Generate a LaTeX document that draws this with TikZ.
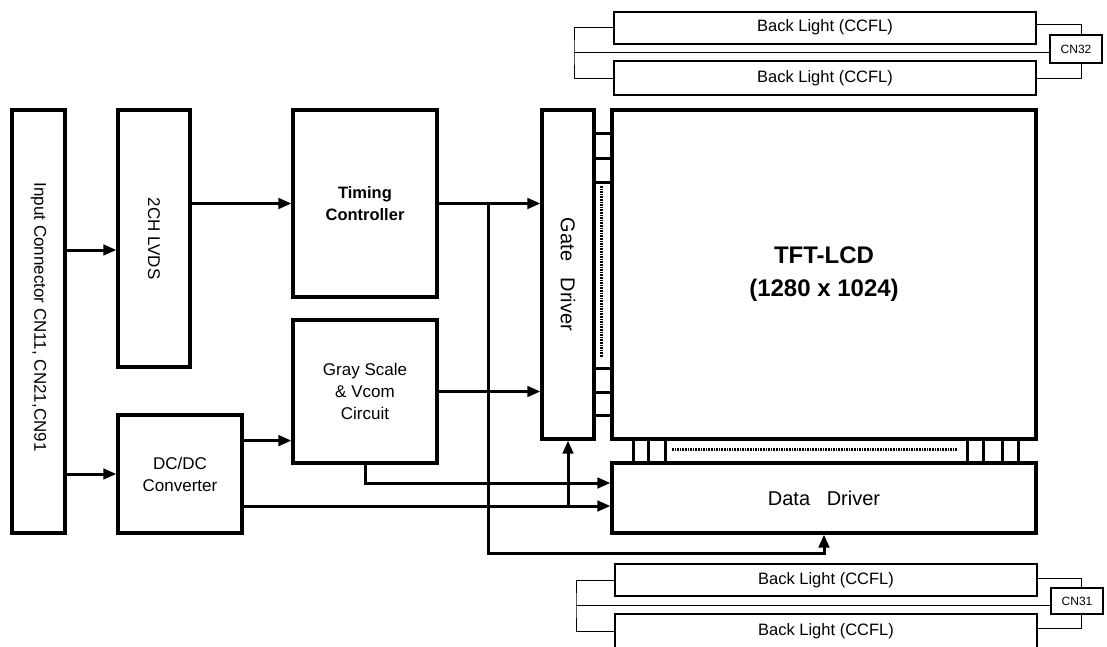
\documentclass[tikz,border=0pt]{standalone}
\usepackage{fontspec}
\setmainfont{Liberation Sans}
\usetikzlibrary{arrows.meta,positioning,calc}

\begin{document}
\begin{tikzpicture}[x=1pt,y=-1pt,
	blk/.style={draw,line width=3.2pt,inner sep=0pt,align=center,
		font=\fontsize{17}{22}\selectfont},
	lamp/.style={draw,line width=2pt,inner sep=0pt,minimum width=422pt,
		font=\fontsize{16.5}{20}\selectfont},
	conn/.style={draw,line width=2pt,inner sep=0pt,minimum width=52pt,
		font=\fontsize{12}{14}\selectfont},
	arr/.style={line width=3pt,-{Triangle[length=13pt,width=10.5pt]}},
	tab/.style={line width=3pt},
	dots/.style={line width=3pt,dash pattern=on 1.6pt off 1pt},
	wire/.style={line width=1pt}]

				\useasboundingbox (0,0) rectangle (1107,646);
				\clip (0,0) rectangle (1107,646);

				% left blocks
				\node[blk,minimum width=53pt,minimum height=423pt] (inp) at (38.5,321.5) {};
				\node[rotate=-90,font=\fontsize{17}{20}\selectfont] (inptxt) at (38.5,317)
				{Input Connector CN11, CN21,CN91};

				\node[blk,minimum width=72pt,minimum height=257pt] (lvds) at (154,238.5) {};
				\node[rotate=-90,font=\fontsize{17}{20}\selectfont] (lvdstxt) at (lvds) {2CH LVDS};

				\node[blk,minimum width=124pt,minimum height=118pt] (dcdc) at (180,474)
				{DC/DC\\Converter};

				\node[blk,minimum width=144pt,minimum height=187pt,
					font=\fontsize{16.5}{22}\selectfont\bfseries] (tcon) at (365,203.5)
				{Timing\\Controller};

				\node[blk,minimum width=144pt,minimum height=143pt] (gray) at (365,391.5)
				{Gray Scale\\\& Vcom\\Circuit};

				% panel
				\node[blk,minimum width=52pt,minimum height=329pt] (gate) at (568,274.5) {};
				\node[rotate=-90,font=\fontsize{20}{24}\selectfont] (gatetxt) at (gate)
				{Gate~~~Driver};

				\node[blk,minimum width=424pt,minimum height=329pt,
					font=\fontsize{24}{33}\selectfont\bfseries] (tft) at (824,274.5)
				{TFT-LCD\\(1280 x 1024)};

				\node[blk,minimum width=424pt,minimum height=70pt,
					font=\fontsize{20}{24}\selectfont] (data) at (824,498)
				{Data~~~Driver};

				\foreach \y in {133,158,182,368,392,415}
				{
					\path (0,\y) coordinate (ty);
					\draw[tab] (gate.east |- ty) -- (tft.west |- ty);
				}
				\draw[dots] (601,186) -- (601,357);

				\foreach \x in {633,648,665,967,983,1002,1018}
				{
					\path (\x,0) coordinate (tx);
					\draw[tab] (tft.south -| tx) -- (data.north -| tx);
				}
				\draw[dots] (672,449) -- (957,449);

				% signal paths
				\coordinate (a1) at ([yshift=-11.5pt]lvds.west);
				\draw[arr] (a1 -| inp.east) -- (a1);
				\draw[arr] (dcdc.west -| inp.east) -- (dcdc.west);
				\draw[arr] (tcon.west -| lvds.east) -- (tcon.west);

				\coordinate (a2) at ([yshift=24pt]gray.south west);
				\draw[arr] (a2 -| dcdc.east) -- (a2);

				\draw[arr] (tcon.east) -- (tcon.east -| gate.west);
				\draw[arr] (gray.east) -- (gray.east -| gate.west);

				\coordinate (tb) at ([xshift=50pt]tcon.east);
				\coordinate (a3) at ([yshift=-19pt]data.south);
				\draw[arr] (tb) |- (a3) -- (data.south);

				\coordinate (a4) at ([yshift=15pt]data.west);
				\draw[arr] (gray.south) |- (a4);

				\coordinate (a5) at ([yshift=-8pt]data.west);
				\draw[arr] (a5 -| dcdc.east) -- (a5);
				\draw[arr] (a5 -| gate.south) -- (gate.south);

				% back lights, top
				\node[lamp,minimum height=32pt] (bla) at (825,27.5) {Back Light (CCFL)};
				\node[lamp,minimum height=34pt] (blb) at (825,78) {Back Light (CCFL)};
				\node[conn,minimum height=28pt] (cnb) at (1076,49) {CN32};

				\coordinate (lw) at (574,52);
				\draw[wire] (bla.west) -| (lw) |- (blb.west);
				\draw[wire] (lw) -- (lw -| cnb.west);
				\draw[wire] ([yshift=3pt]bla.east) -| ([xshift=5pt]cnb.north);
				\draw[wire] (blb.east) -| ([xshift=5pt]cnb.south);

				% back lights, bottom
				\node[lamp,minimum height=32pt] (blc) at (826,580) {Back Light (CCFL)};
				\node[lamp,minimum height=34pt] (bld) at (826,631) {Back Light (CCFL)};
				\node[conn,minimum height=26pt] (cna) at (1077,601) {CN31};

				\coordinate (lw2) at (576,605);
				\draw[wire] (blc.west) -| (lw2) |- (bld.west);
				\draw[wire] (lw2) -- (lw2 -| cna.west);
				\draw[wire] ([yshift=2pt]blc.east) -| ([xshift=4pt]cna.north);
				\draw[wire] ([yshift=3pt]bld.east) -| ([xshift=4pt]cna.south);
			\end{tikzpicture}
\end{document}
